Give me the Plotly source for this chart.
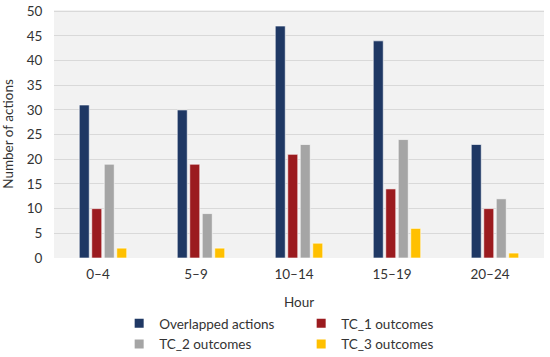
import plotly.graph_objects as go

categories = ["0–4", "5–9", "10–14", "15–19", "20–24"]
overlapped = [31, 30, 47, 44, 23]
tc1 = [10, 19, 21, 14, 10]
tc2 = [19, 9, 23, 24, 12]
tc3 = [2, 2, 3, 6, 1]
y_ticks = [0, 5, 10, 15, 20, 25, 30, 35, 40, 45, 50]

series = [
    ("Overlapped actions", overlapped, "#1f3864"),
    ("TC_1 outcomes", tc1, "#9b1b1f"),
    ("TC_2 outcomes", tc2, "#a5a5a5"),
    ("TC_3 outcomes", tc3, "#ffc000"),
]

fig = go.Figure()
for name, vals, col in series:
    fig.add_trace(go.Bar(x=categories, y=vals, name=name, showlegend=False,
                         marker=dict(color=col, line=dict(color="white", width=0.6))))
# legend entries (small square swatches)
for name, vals, col in series:
    fig.add_trace(go.Scatter(x=[None], y=[None], mode="markers", name=name,
                             marker=dict(symbol="square", size=9, color=col)))

font = "Lato, 'Open Sans', sans-serif"
fig.update_layout(
    width=550, height=357,
    margin=dict(l=54, r=6, t=10, b=99, autoexpand=False),
    paper_bgcolor="white", plot_bgcolor="#f2f2f2",
    barmode="group", bargap=0.49, bargroupgap=0.2,
    font=dict(family=font, size=13, color="#333333"),
    xaxis=dict(title=dict(text="Hour", font=dict(size=13.5), standoff=16),
               showgrid=False, ticks="outside", ticklen=4, tickcolor="rgba(0,0,0,0)",
               tickfont=dict(size=13.5), ticklabelshift=-5),
    yaxis=dict(title=dict(text="Number of actions", font=dict(size=13.5), standoff=12),
               range=[0, 50.25], tickvals=y_ticks, gridcolor="#d9d9d9", gridwidth=1,
               zeroline=False, ticks="outside", ticklen=8, tickcolor="rgba(0,0,0,0)",
               tickfont=dict(size=13.5)),
    legend=dict(orientation="h", x=0.133, xanchor="left", y=-0.202, yanchor="top",
                entrywidth=137, entrywidthmode="pixels", font=dict(size=13.5),
                itemwidth=30, tracegroupgap=0),
    showlegend=True,
)
# remove the browser's default 8px body margin so the figure fills the window
fig.write_html("out.html", config={"displayModeBar": False},
               post_script="document.body.style.margin='0';")
